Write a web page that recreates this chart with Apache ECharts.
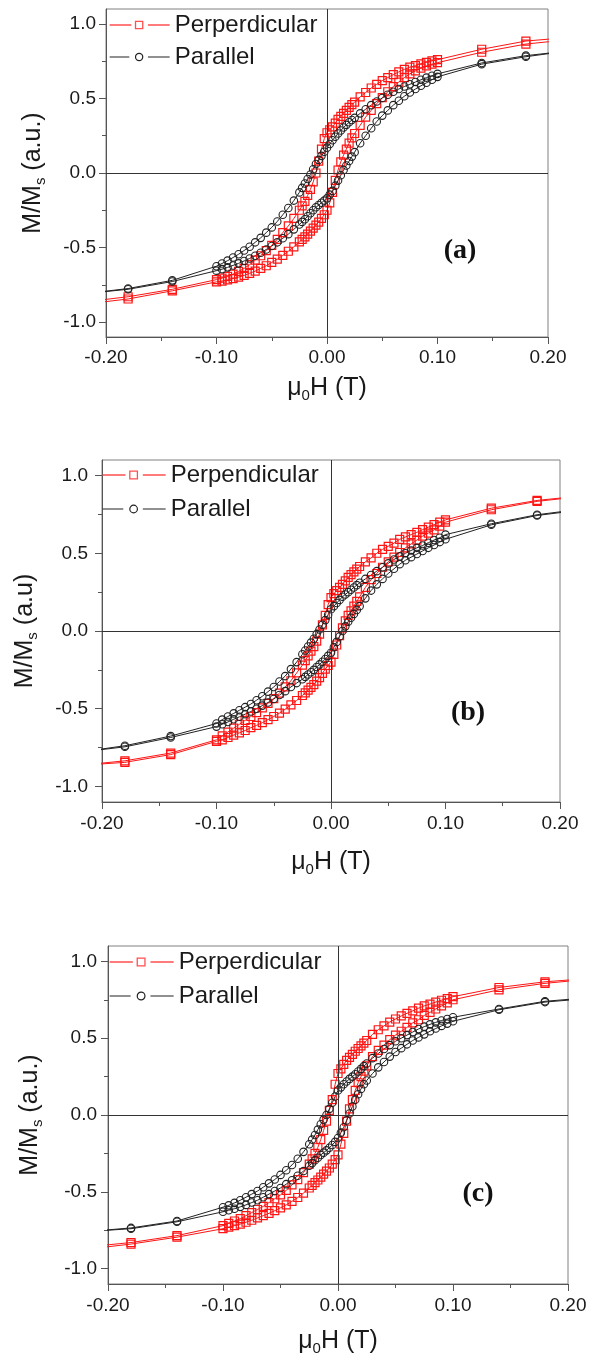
<!DOCTYPE html>
<html><head><meta charset="utf-8">
<script src="https://cdn.jsdelivr.net/npm/echarts@6/dist/echarts.min.js"></script>
<style>html,body{margin:0;padding:0;background:#fff;width:590px;height:1361px;overflow:hidden}.p{position:absolute;left:0;width:590px}</style>
</head><body>
<div id="pa" class="p" style="top:0;height:440px"></div>
<div id="pb" class="p" style="top:440px;height:460px"></div>
<div id="pc" class="p" style="top:900px;height:461px"></div>
<script>
// ---------- data ----------
// field sweep (T): descending branch, then ascending branch
const fieldDown = [0.22, 0.18, 0.14, 0.10, 0.095, 0.09, 0.085, 0.08, 0.075, 0.07, 0.065, 0.06, 0.055, 0.05, 0.045, 0.04, 0.035, 0.03,
  0.025, 0.0225, 0.02, 0.0175, 0.015, 0.0125, 0.01, 0.0075, 0.005, 0.0025, 0, -0.0025, -0.005, -0.0075, -0.01, -0.0125, -0.015, -0.0175, -0.02, -0.0225, -0.025,
  -0.03, -0.035, -0.04, -0.045, -0.05, -0.055, -0.06, -0.065, -0.07, -0.075, -0.08, -0.085, -0.09, -0.095, -0.10, -0.14, -0.18, -0.22];
const fieldUp = [-0.22, -0.18, -0.14, -0.10, -0.095, -0.09, -0.085, -0.08, -0.075, -0.07, -0.065, -0.06, -0.055, -0.05, -0.045, -0.04, -0.035, -0.03,
  -0.025, -0.0225, -0.02, -0.0175, -0.015, -0.0125, -0.01, -0.0075, -0.005, -0.0025, 0, 0.0025, 0.005, 0.0075, 0.01, 0.0125, 0.015, 0.0175, 0.02, 0.0225, 0.025,
  0.03, 0.035, 0.04, 0.045, 0.05, 0.055, 0.06, 0.065, 0.07, 0.075, 0.08, 0.085, 0.09, 0.095, 0.10, 0.14, 0.18, 0.22];

// panel (a)  M/Ms
const aPerpDown = [0.91, 0.885, 0.83, 0.76, 0.752, 0.742, 0.732, 0.72, 0.71, 0.695, 0.678, 0.66, 0.64, 0.62, 0.595, 0.57, 0.54, 0.51,
  0.475, 0.458, 0.44, 0.42, 0.40, 0.38, 0.36, 0.335, 0.31, 0.29, 0.27, 0.23, 0.16, 0.08, 0.0, -0.06, -0.11, -0.15, -0.19, -0.22, -0.25,
  -0.305, -0.355, -0.40, -0.445, -0.485, -0.52, -0.555, -0.585, -0.615, -0.64, -0.66, -0.678, -0.693, -0.705, -0.715, -0.78, -0.83, -0.865];
const aPerpUp = [-0.88, -0.845, -0.79, -0.73, -0.725, -0.717, -0.708, -0.698, -0.687, -0.673, -0.658, -0.64, -0.622, -0.6, -0.578, -0.553, -0.525, -0.495,
  -0.462, -0.445, -0.428, -0.41, -0.39, -0.37, -0.35, -0.33, -0.305, -0.28, -0.25, -0.2, -0.13, -0.05, 0.02, 0.075, 0.12, 0.16, 0.2, 0.235, 0.265,
  0.32, 0.375, 0.42, 0.465, 0.505, 0.545, 0.58, 0.61, 0.64, 0.665, 0.685, 0.703, 0.718, 0.73, 0.74, 0.81, 0.865, 0.895];
const aParDown = [0.82, 0.787, 0.738, 0.665, 0.652, 0.64, 0.625, 0.61, 0.595, 0.58, 0.563, 0.545, 0.525, 0.503, 0.48, 0.455, 0.428, 0.40,
  0.37, 0.355, 0.34, 0.323, 0.305, 0.285, 0.265, 0.243, 0.22, 0.195, 0.17, 0.143, 0.115, 0.088, 0.06, 0.025, -0.01, -0.04, -0.07, -0.1, -0.13,
  -0.185, -0.235, -0.28, -0.325, -0.365, -0.40, -0.435, -0.465, -0.495, -0.52, -0.545, -0.567, -0.588, -0.607, -0.625, -0.72, -0.775, -0.81];
const aParUp = [-0.815, -0.78, -0.728, -0.655, -0.645, -0.633, -0.62, -0.606, -0.59, -0.573, -0.555, -0.535, -0.513, -0.49, -0.465, -0.438, -0.41, -0.378,
  -0.345, -0.328, -0.31, -0.29, -0.27, -0.25, -0.23, -0.215, -0.20, -0.185, -0.17, -0.145, -0.12, -0.085, -0.05, -0.015, 0.02, 0.05, 0.08, 0.11, 0.14,
  0.2, 0.25, 0.3, 0.345, 0.385, 0.42, 0.455, 0.485, 0.515, 0.54, 0.563, 0.585, 0.605, 0.625, 0.645, 0.73, 0.78, 0.82];

// panel (b)
const bPerpDown = [0.87, 0.84, 0.79, 0.715, 0.70, 0.684, 0.668, 0.652, 0.635, 0.62, 0.605, 0.59, 0.565, 0.545, 0.525, 0.50, 0.47, 0.445,
  0.415, 0.398, 0.38, 0.363, 0.345, 0.323, 0.30, 0.28, 0.26, 0.24, 0.215, 0.17, 0.1, 0.04, -0.02, -0.065, -0.1, -0.13, -0.16, -0.19, -0.22,
  -0.27, -0.32, -0.36, -0.40, -0.435, -0.465, -0.495, -0.525, -0.55, -0.575, -0.60, -0.625, -0.65, -0.675, -0.70, -0.785, -0.835, -0.865];
const bPerpUp = [-0.875, -0.845, -0.795, -0.71, -0.70, -0.685, -0.67, -0.655, -0.64, -0.622, -0.607, -0.59, -0.57, -0.55, -0.528, -0.503, -0.475, -0.447,
  -0.415, -0.398, -0.38, -0.363, -0.345, -0.323, -0.3, -0.273, -0.245, -0.222, -0.2, -0.15, -0.09, -0.03, 0.02, 0.065, 0.1, 0.13, 0.16, 0.19, 0.22,
  0.28, 0.33, 0.37, 0.41, 0.445, 0.475, 0.505, 0.535, 0.56, 0.585, 0.61, 0.63, 0.65, 0.675, 0.70, 0.78, 0.834, 0.866];
const bParDown = [0.785, 0.748, 0.69, 0.62, 0.60, 0.585, 0.568, 0.55, 0.535, 0.518, 0.5, 0.48, 0.46, 0.435, 0.41, 0.385, 0.36, 0.335,
  0.31, 0.295, 0.28, 0.265, 0.25, 0.235, 0.22, 0.2, 0.18, 0.16, 0.14, 0.105, 0.07, 0.04, 0.01, -0.02, -0.05, -0.075, -0.1, -0.125, -0.15,
  -0.2, -0.245, -0.29, -0.325, -0.36, -0.39, -0.42, -0.445, -0.47, -0.49, -0.51, -0.53, -0.55, -0.57, -0.595, -0.676, -0.738, -0.78];
const bParUp = [-0.79, -0.745, -0.685, -0.615, -0.6, -0.585, -0.568, -0.552, -0.535, -0.518, -0.5, -0.48, -0.46, -0.437, -0.412, -0.387, -0.36, -0.335,
  -0.31, -0.295, -0.28, -0.265, -0.25, -0.232, -0.215, -0.198, -0.18, -0.16, -0.14, -0.105, -0.07, -0.035, 0.0, 0.03, 0.06, 0.085, 0.11, 0.135, 0.16,
  0.21, 0.26, 0.3, 0.335, 0.37, 0.4, 0.43, 0.455, 0.475, 0.495, 0.515, 0.535, 0.553, 0.572, 0.59, 0.683, 0.743, 0.78];

// panel (c)
const cPerpDown = [0.89, 0.867, 0.83, 0.77, 0.758, 0.747, 0.735, 0.722, 0.71, 0.695, 0.678, 0.662, 0.645, 0.625, 0.605, 0.58, 0.555, 0.525,
  0.485, 0.468, 0.45, 0.433, 0.415, 0.395, 0.375, 0.355, 0.33, 0.30, 0.27, 0.2, 0.1, 0.03, -0.04, -0.1, -0.16, -0.21, -0.25, -0.285, -0.32,
  -0.375, -0.42, -0.455, -0.49, -0.52, -0.545, -0.57, -0.595, -0.615, -0.635, -0.655, -0.675, -0.69, -0.705, -0.72, -0.785, -0.83, -0.86];
const cPerpUp = [-0.875, -0.84, -0.795, -0.74, -0.73, -0.72, -0.71, -0.698, -0.685, -0.67, -0.655, -0.64, -0.623, -0.604, -0.585, -0.562, -0.537, -0.508,
  -0.475, -0.458, -0.44, -0.423, -0.405, -0.385, -0.365, -0.345, -0.32, -0.29, -0.26, -0.19, -0.12, -0.04, 0.04, 0.1, 0.16, 0.21, 0.25, 0.285, 0.32,
  0.38, 0.42, 0.455, 0.49, 0.52, 0.545, 0.57, 0.6, 0.62, 0.648, 0.668, 0.69, 0.71, 0.73, 0.75, 0.815, 0.857, 0.885];
const cParDown = [0.765, 0.74, 0.69, 0.636, 0.625, 0.615, 0.603, 0.59, 0.575, 0.56, 0.54, 0.52, 0.5, 0.48, 0.455, 0.43, 0.4, 0.37,
  0.335, 0.318, 0.3, 0.283, 0.265, 0.25, 0.235, 0.218, 0.2, 0.18, 0.16, 0.12, 0.08, 0.04, 0.0, -0.03, -0.06, -0.095, -0.13, -0.16, -0.19,
  -0.24, -0.285, -0.325, -0.36, -0.39, -0.42, -0.445, -0.47, -0.495, -0.515, -0.535, -0.555, -0.572, -0.588, -0.60, -0.69, -0.735, -0.76];
const cParUp = [-0.77, -0.74, -0.695, -0.63, -0.62, -0.61, -0.598, -0.585, -0.57, -0.555, -0.535, -0.515, -0.495, -0.475, -0.45, -0.425, -0.395, -0.365,
  -0.33, -0.313, -0.295, -0.278, -0.26, -0.245, -0.23, -0.213, -0.195, -0.175, -0.15, -0.115, -0.08, -0.035, 0.01, 0.055, 0.1, 0.135, 0.17, 0.2, 0.225,
  0.27, 0.31, 0.345, 0.38, 0.41, 0.435, 0.46, 0.485, 0.505, 0.525, 0.545, 0.563, 0.58, 0.595, 0.61, 0.685, 0.735, 0.76];

const yMajorTicks = [-1, -0.5, 0, 0.5, 1];
const yMinorTicks = [-0.75, -0.25, 0.25, 0.75];
const legendNames = { a: ['Perperdicular', 'Parallel'], b: ['Perpendicular', 'Parallel'], c: ['Perperdicular', 'Parallel'] };
const yTitles = { a: '{m|M/M}{s|s}{m| (a.u.)}', b: '{m|M/M}{s|s}{m| (a.u)}', c: '{m|M/M}{s|s}{m| (a.u.)}' };
const xTitle = '{m|\u03bc}{s|0}{m|H (T)}';
const panelLabels = { a: '(a)', b: '(b)', c: '(c)' };

// ---------- drawing ----------
const FONT = '"Liberation Sans", Arial, Helvetica, sans-serif';
const RED = '#ff1414', BLACK = '#222222';
// legend icons: line - marker - line, with gaps around the marker
const ICON_SQUARE = 'path://M0,4L21,4M25,0.5L32,0.5L32,7.5L25,7.5ZM37,4L58,4';
const ICON_CIRCLE = 'path://M0,4L19,4M32,4A3.5,3.5,0,1,1,25,4A3.5,3.5,0,1,1,32,4ZM37,4L58,4';

function loop(down, up) {
  const d = [];
  fieldDown.forEach((h, i) => d.push([h, down[i]]));
  fieldUp.forEach((h, i) => d.push([h, up[i]]));
  return d;
}
const titleRich = {
  m: { fontSize: 25, lineHeight: 30, fontFamily: FONT, color: '#1a1a1a' },
  s: { fontSize: 15, lineHeight: 8, verticalAlign: 'bottom', fontFamily: FONT, color: '#1a1a1a' }
};

function build(id, key, perp, par, L) {
  const chart = echarts.init(document.getElementById(id), null, { renderer: 'canvas' });
  const names = legendNames[key];
  const option = {
    animation: false,
    backgroundColor: '#fff',
    grid: { left: L.left, top: L.top, width: L.width, height: L.height, show: true, borderColor: '#808080', borderWidth: 1, backgroundColor: 'transparent' },
    legend: {
      orient: 'vertical', left: L.legLeft, top: L.legTop, padding: 0, itemGap: L.legGap,
      itemWidth: L.legWidth, itemHeight: 8, selectedMode: false,
      textStyle: { fontSize: 24, lineHeight: 26, fontFamily: FONT, color: '#1a1a1a' },
      data: [
        { name: names[0], icon: ICON_SQUARE, itemStyle: { color: 'rgba(255,255,255,0)', borderColor: '#ff5050', borderWidth: 1.3 } },
        { name: names[1], icon: ICON_CIRCLE, itemStyle: { color: 'rgba(255,255,255,0)', borderColor: '#222', borderWidth: 1.2 } }
      ]
    },
    xAxis: {
      type: 'value', min: -0.2, max: 0.2, interval: 0.1,
      name: xTitle, nameLocation: 'middle', nameGap: L.xNameGap,
      nameTextStyle: { rich: titleRich },
      axisLine: { show: true, onZero: false, lineStyle: { color: '#555', width: 1 } },
      axisTick: { show: true, inside: false, length: 7, lineStyle: { color: '#555' } },
      minorTick: { show: true, splitNumber: 2, length: 4, lineStyle: { color: '#555' } },
      splitLine: { show: false },
      axisLabel: { fontSize: 19, fontFamily: FONT, color: '#1a1a1a', margin: L.xLabelMargin,
        formatter: v => (Math.abs(v) < 1e-9 ? '0.00' : v.toFixed(2)) }
    },
    yAxis: [{
      type: 'value', min: -1.1, max: 1.1,
      name: yTitles[key], nameLocation: 'middle', nameGap: L.yNameGap,
      nameTextStyle: { rich: titleRich },
      axisLine: { show: true, onZero: false, lineStyle: { color: '#555', width: 1 } },
      axisTick: { show: true, inside: false, length: 7, customValues: yMajorTicks, lineStyle: { color: '#555' } },
      splitLine: { show: false },
      axisLabel: { fontSize: 19, fontFamily: FONT, color: '#1a1a1a', margin: L.yLabelMargin, customValues: yMajorTicks,
        formatter: v => (Math.abs(v) < 1e-9 ? '0.0' : v.toFixed(1)) }
    }, {
      type: 'value', min: -1.1, max: 1.1, position: 'left', offset: 0,
      axisLine: { show: false, onZero: false },
      axisTick: { show: true, inside: false, length: 4, customValues: yMinorTicks, lineStyle: { color: '#555' } },
      axisLabel: { show: false }, splitLine: { show: false }
    }],
    series: [{
      name: names[0], type: 'line', yAxisIndex: 0, data: loop(perp[0], perp[1]),
      symbol: 'rect', symbolSize: 8, clip: true,
      itemStyle: { color: 'rgba(255,255,255,0)', borderColor: RED, borderWidth: 1.2 },
      lineStyle: { color: RED, width: 1 },
      emphasis: { disabled: true },
      markLine: {
        silent: true, symbol: ['none', 'none'], label: { show: false },
        lineStyle: { color: '#333', width: 1, type: 'solid' },
        data: [{ xAxis: 0 }, { yAxis: 0 }]
      }
    }, {
      name: names[1], type: 'line', yAxisIndex: 0, data: loop(par[0], par[1]),
      symbol: 'circle', symbolSize: 7.5, clip: true,
      itemStyle: { color: 'rgba(255,255,255,0)', borderColor: BLACK, borderWidth: 1.1 },
      lineStyle: { color: BLACK, width: 1 },
      emphasis: { disabled: true }
    }],
    graphic: [{
      type: 'text', x: L.labX, y: L.labY, z: 100,
      style: { text: panelLabels[key], font: 'bold 28px "Liberation Serif", "Times New Roman", serif', fill: '#111',
        align: 'center', verticalAlign: 'middle', textAlign: 'center', textVerticalAlign: 'middle' }
    }]
  };
  chart.setOption(option);
}

build('pa', 'a', [aPerpDown, aPerpUp], [aParDown, aParUp], {
  left: 106, top: 9, width: 442, height: 328,
  legLeft: 109, legTop: 12, legGap: 6, legWidth: 60,
  xNameGap: 36, yNameGap: 58, xLabelMargin: 11, yLabelMargin: 10, labX: 460, labY: 251
});
build('pb', 'b', [bPerpDown, bPerpUp], [bParDown, bParUp], {
  left: 102, top: 20, width: 458, height: 342,
  legLeft: 102, legTop: 22, legGap: 8, legWidth: 63,
  xNameGap: 45, yNameGap: 62, xLabelMargin: 12, yLabelMargin: 14, labX: 468, labY: 273
});
build('pc', 'c', [cPerpDown, cPerpUp], [cParDown, cParUp], {
  left: 108, top: 46, width: 460, height: 338,
  legLeft: 109, legTop: 49, legGap: 8, legWidth: 64,
  xNameGap: 42, yNameGap: 63, xLabelMargin: 12, yLabelMargin: 11, labX: 478, labY: 294
});
</script>
</body></html>
